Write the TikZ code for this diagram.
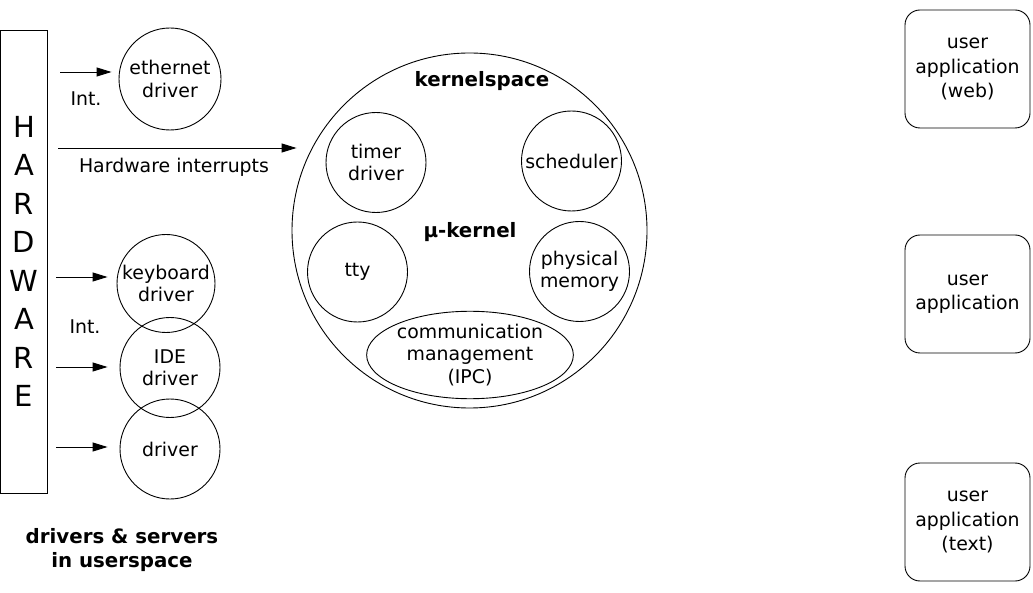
\documentclass[tikz,border=0pt]{standalone}
\usepackage{fontspec}
\setmainfont{DejaVu Sans}
\usetikzlibrary{arrows.meta,shapes.geometric}
\tikzset{
  every picture/.style={line width=0.9pt},
  txt/.style={font=\fontsize{18.9}{22.5}\selectfont, align=center, inner sep=0pt},
  btxt/.style={font=\fontsize{19.8}{24}\selectfont\bfseries, align=center, inner sep=0pt},
  proc/.style={draw, circle, inner sep=0pt, txt},
  app/.style={draw, rounded corners=15pt, minimum width=125pt, minimum height=118pt, inner sep=0pt,
              font=\fontsize{18.9}{24.5}\selectfont, align=center},
  arr/.style={-{Triangle[length=15pt,width=9pt]}},
}
\begin{document}
\begin{tikzpicture}[x=1pt,y=-1pt]
\useasboundingbox (0,0) rectangle (1033,593);
% hardware bar
\node[draw, minimum width=46.5pt, minimum height=463pt, inner sep=0pt,
      font=\fontsize{29}{38.5}\selectfont, align=center] (hw) at (24,261.5)
      {H\\A\\R\\D\\W\\A\\R\\E};
% userspace drivers
\node[proc, minimum size=102pt] (eth) at (170,79) {ethernet\\driver};
\node[proc, minimum size=98pt] (kbd) at (166,283.5) {keyboard\\driver};
\node[proc, minimum size=100pt] (ide) at (170,367.5) {IDE\\driver};
\node[proc, minimum size=100pt] (drv) at (170,449) {driver};
\node[txt] (int1) at (86,99) {Int.};
\node[txt] (int2) at (85,327) {Int.};
\node[btxt] (us) at (122,550) {drivers \& servers\\in userspace};
% kernel
\node[draw, circle, minimum size=355pt, inner sep=0pt] (kern) at (469.5,230.5) {};
\node[btxt] (ks) at (482,81) {kernelspace};
\node[btxt] (mu) at (470,232) {µ-kernel};
\node[proc, minimum size=100pt] (timer) at (376,162.5) {timer\\driver};
\node[proc, minimum size=100pt] (sched) at (571.5,161) {scheduler};
\node[proc, minimum size=100pt] (tty) at (357.5,272) {tty};
\node[proc, minimum size=100pt] (phys) at (579.5,271.5) {physical\\memory};
\node[draw, ellipse, minimum width=200pt, minimum height=84pt, inner sep=0pt, txt] (ipc) at (470,355) {communication\\management\\(IPC)};
% hardware interrupts
\node[txt] (hwi) at (174,167) {Hardware interrupts};
% user applications
\node[app] (web) at (967.5,69) {user\\application\\(web)};
\node[app] (uapp) at (967.5,294) {user\\application};
\node[app] (text) at (967.5,522) {user\\application\\(text)};
% arrows
\coordinate (t1) at (60,72);
\coordinate (t2) at (58,148);
\coordinate (t3) at (56,277);
\coordinate (t4) at (56,367);
\coordinate (t5) at (56,447);
\draw[arr, shorten >=7pt] (t1) -- (t1 -| eth.west);
\draw[arr, shorten >=-5pt] (t2) -- (t2 -| kern.west);
\draw[arr, shorten >=9pt] (t3) -- (t3 -| kbd.west);
\draw[arr, shorten >=12pt] (t4) -- (t4 -| ide.west);
\draw[arr, shorten >=12pt] (t5) -- (t5 -| drv.west);
\end{tikzpicture}
\end{document}
